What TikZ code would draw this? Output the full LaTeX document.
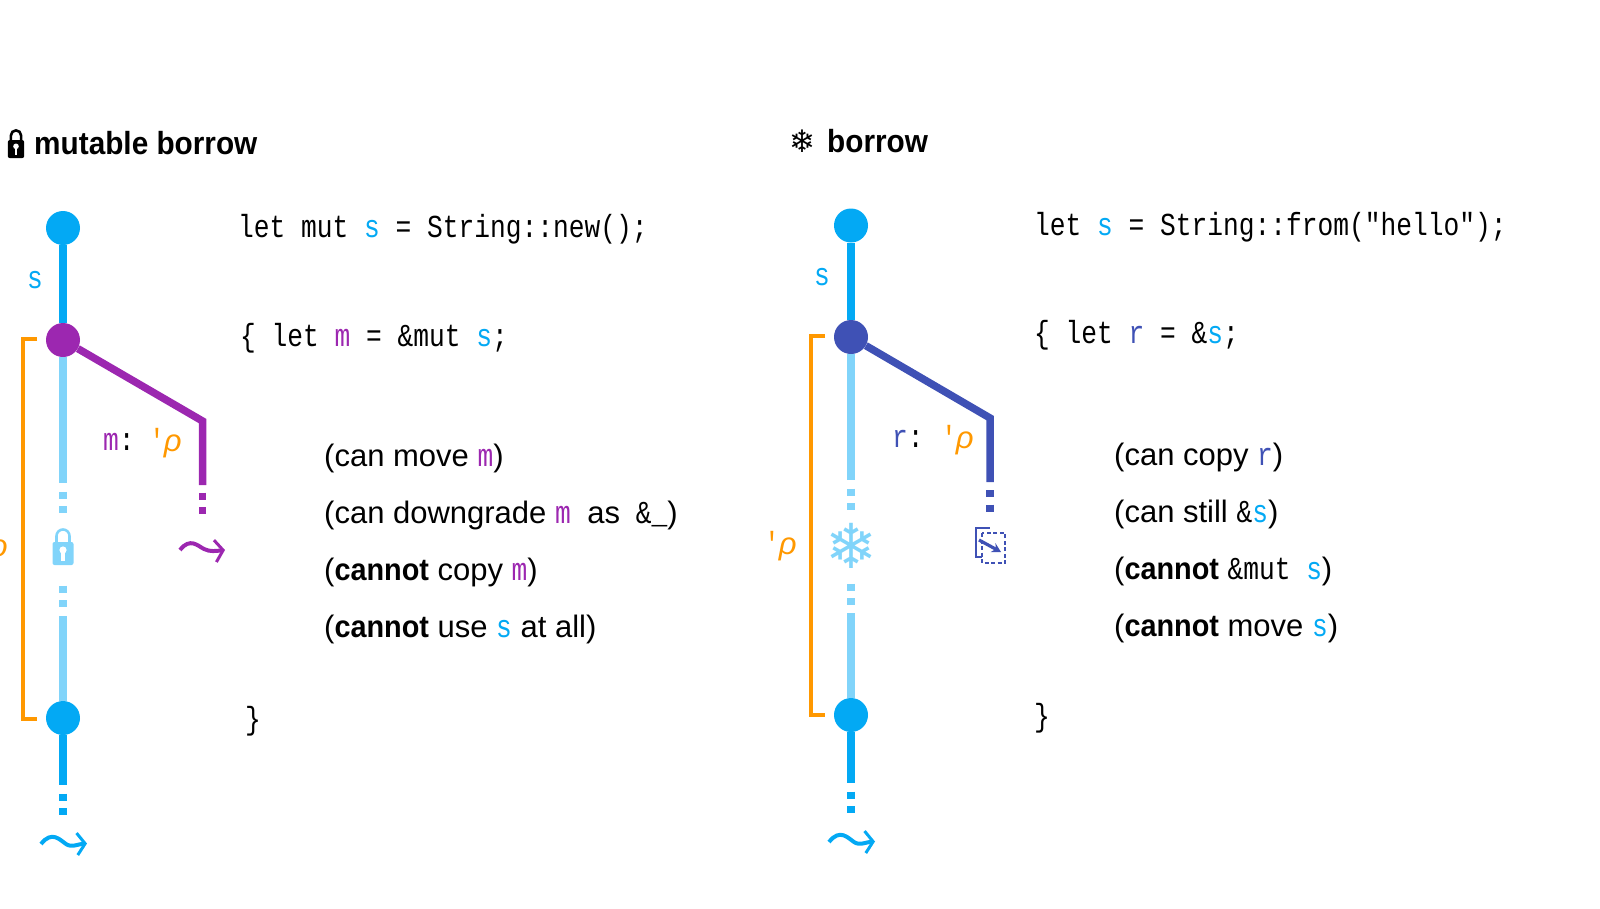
\documentclass[tikz,border=0pt]{standalone}
\usepackage{xcolor}
\usepackage{fontspec}
\setmainfont{Liberation Sans}[BoldFeatures={FakeStretch=0.93}]
\setmonofont{Liberation Mono}[FakeStretch=0.82]
\newfontfamily\symfont{DejaVu Sans}
\usetikzlibrary{arrows.meta}

\definecolor{skyblue}{HTML}{03A9F4}
\definecolor{skypale}{HTML}{81D4FA}
\definecolor{mutpurple}{HTML}{9C27B0}
\definecolor{refindigo}{HTML}{3F51B5}
\definecolor{spanorange}{HTML}{FF9800}

\newcommand{\codesize}{\fontsize{32}{32}\selectfont}
\newcommand{\vars}{\textcolor{skyblue}{\ttfamily\codesize s}}
\newcommand{\varm}{\textcolor{mutpurple}{\ttfamily\codesize m}}
\newcommand{\varr}{\textcolor{refindigo}{\ttfamily\codesize r}}
\newcommand{\ltlabel}{\textcolor{spanorange}{\ttfamily\codesize '\kern-1pt\rmfamily\itshape\fontsize{31}{31}\selectfont ρ}}

\tikzset{
	dot/.style={circle,fill=skyblue,minimum size=34pt,inner sep=0pt},
	stem/.style={line width=7.5pt,skyblue},
	palestem/.style={line width=7.5pt,skypale},
	tail/.style={line width=7.5pt,dash pattern=on 7pt off 7.5pt},
	span/.style={line width=3.2pt,spanorange,miter limit=10},
	wave/.style={line width=4pt,-{Straight Barb[length=8pt,width=22pt,line width=3pt]}},
	code/.style={anchor=base west,inner sep=0pt,font=\ttfamily\codesize},
	note/.style={anchor=base west,inner sep=0pt,font=\fontsize{31}{31}\selectfont},
	heading/.style={anchor=base west,inner sep=0pt,font=\bfseries\fontsize{32}{32}\selectfont},
	lockicon/.pic={
		\fill[rounded corners=2pt] (-10.5,-5) rectangle (10.5,18);
		\draw[line width=2.6pt] (-6.5,-4) -- (-6.5,-11) arc[start angle=180,end angle=360,radius=6.5] -- (6.5,-4);
		\fill[white] (0,3) circle[radius=3.6];
		\fill[white] (-1.6,3) rectangle (1.6,14);
	}
}

\begin{document}
\begin{tikzpicture}[x=1pt,y=-1pt]
	\useasboundingbox (0,0) rectangle (1600,908);

	% Now the mutable borrow heading
	\pic[black,scale=0.78] (titlelock) at (16,144) {lockicon};
	\node[heading] (title1) at (34,154) {mutable borrow};

	% Timeline of s on the left
	\node[dot] (s1) at (63,228) {};
	\node[dot,fill=mutpurple] (m1) at (63,340) {};
	\node[dot] (e1) at (63,718) {};
	\coordinate (pale1a) at (63,483);
	\coordinate (bit1a) at (63,491.5);
	\coordinate (bit1b) at (63,513);
	\coordinate (bit1c) at (63,585.5);
	\coordinate (bit1d) at (63,607);
	\coordinate (pale1b) at (63,616);
	\coordinate (stem1) at (63,785);
	\coordinate (bit1e) at (63,793.5);
	\coordinate (bit1f) at (63,816);
	\draw[stem] (s1) -- (m1);
	\draw[palestem] (m1) -- (pale1a);
	\draw[palestem,tail] (bit1a) -- (bit1b);
	\pic[skypale] (lock1) at (63,547) {lockicon};
	\draw[palestem,tail] (bit1c) -- (bit1d);
	\draw[palestem] (pale1b) -- (e1);
	\draw[stem] (e1) -- (stem1);
	\draw[stem,tail] (bit1e) -- (bit1f);
	\coordinate (wave1a) at (41,844);
	\coordinate (wave1b) at (87,843.5);
	\draw[wave,skyblue] (wave1a) .. controls (52,830) and (60,840) .. (66,844) .. controls (72,848) and (78,844) .. (wave1b);

	% The branch of m
	\coordinate (elbow1) at (202.5,421);
	\coordinate (end1) at (202.5,485);
	\coordinate (bit1g) at (202.5,492.5);
	\coordinate (bit1h) at (202.5,515);
	\draw[line width=7.5pt,mutpurple,miter limit=10] (m1) -- (elbow1) -- (end1);
	\draw[line width=7.5pt,mutpurple,tail] (bit1g) -- (bit1h);
	\coordinate (wave2a) at (180,550);
	\coordinate (wave2b) at (225,550);
	\draw[wave,mutpurple] (wave2a) .. controls (190,537) and (198,546) .. (204,549) .. controls (210,552) and (216,551) .. (wave2b);

	% Lifetime bracket
	\coordinate (span1a) at (37,339);
	\coordinate (span1b) at (23,339);
	\coordinate (span1c) at (23,719);
	\coordinate (span1d) at (37,719);
	\draw[span] (span1a) -- (span1b) -- (span1c) -- (span1d);
	\node[anchor=base west,inner sep=0pt] (lt1) at (-25,556) {\ltlabel};
	\node[anchor=base west,inner sep=0pt] (lab1) at (27,288) {\vars};
	\node[anchor=base west,inner sep=0pt] (lab2) at (103,450) {\varm\ttfamily\codesize:};
	\node[anchor=base west,inner sep=0pt] (lab3) at (149,451) {\ltlabel};

	% Code of the mutable borrow
	\node[code] (code1) at (238,237) {let mut \vars{} = String::new();};
	\node[code] (code2) at (240,346) {\{ let \varm{} = \&mut \vars;};
	\node[note] (note1) at (324,466.5) {(can move \varm)};
	\node[note] (note2) at (324,523.5) {(can downgrade \varm{}\hspace{8pt} as\hspace{7pt} \texttt{\codesize\&\_})};
	\node[note] (note3) at (324,580.5) {(\textbf{cannot} copy \varm)};
	\node[note] (note4) at (324,637.5) {(\textbf{cannot} use \vars{} at all)};
	\node[code] (code3) at (245,729) {\}};

	% Now the 2nd heading
	\node[inner sep=0pt,font=\symfont\fontsize{31}{31}\selectfont] (titleflake) at (802,141) {❄};
	\node[heading] (title2) at (827,152) {borrow};

	% Timeline of s on the right
	\node[dot] (s2) at (851,225.5) {};
	\node[dot,fill=refindigo] (r2) at (851,337) {};
	\node[dot] (e2) at (851,715) {};
	\coordinate (pale2a) at (851,480);
	\coordinate (bit2a) at (851,488.5);
	\coordinate (bit2b) at (851,511);
	\coordinate (bit2c) at (851,583.5);
	\coordinate (bit2d) at (851,605);
	\coordinate (pale2b) at (851,613);
	\coordinate (stem2) at (851,783);
	\coordinate (bit2e) at (851,791.5);
	\coordinate (bit2f) at (851,814);
	\draw[stem] (s2) -- (r2);
	\draw[palestem] (r2) -- (pale2a);
	\draw[palestem,tail] (bit2a) -- (bit2b);
	\node[inner sep=0pt,text=skypale,font=\symfont\fontsize{62}{62}\selectfont] (flake2) at (851,546) {❄};
	\draw[palestem,tail] (bit2c) -- (bit2d);
	\draw[palestem] (pale2b) -- (e2);
	\draw[stem] (e2) -- (stem2);
	\draw[stem,tail] (bit2e) -- (bit2f);
	\coordinate (wave3a) at (829,842);
	\coordinate (wave3b) at (875,841.5);
	\draw[wave,skyblue] (wave3a) .. controls (840,828) and (848,838) .. (854,842) .. controls (860,846) and (866,842) .. (wave3b);

	% The branch of r
	\coordinate (elbow2) at (990,418);
	\coordinate (end2) at (990,482);
	\coordinate (bit2g) at (990,490);
	\coordinate (bit2h) at (990,512);
	\draw[line width=7.5pt,refindigo,miter limit=10] (r2) -- (elbow2) -- (end2);
	\draw[line width=7.5pt,refindigo,tail] (bit2g) -- (bit2h);

	% Copy icon
	\coordinate (copy1) at (982,557);
	\coordinate (copy2) at (976,557);
	\coordinate (copy3) at (976,528);
	\coordinate (copy4) at (990,528);
	\coordinate (copy5) at (982,533);
	\coordinate (copy6) at (1005,563);
	\coordinate (copy7) at (979,540);
	\coordinate (copy8) at (1001,552);
	\draw[refindigo,line width=2pt] (copy1) -- (copy2) -- (copy3) -- (copy4);
	\draw[refindigo,line width=2pt,dash pattern=on 4pt off 2.5pt] (copy5) rectangle (copy6);
	\draw[refindigo,line width=3.2pt,-{Stealth[length=9pt,width=10pt]}] (copy7) -- (copy8);

	% Lifetime bracket of the borrow
	\coordinate (span2a) at (825,336);
	\coordinate (span2b) at (811,336);
	\coordinate (span2c) at (811,715);
	\coordinate (span2d) at (825,715);
	\draw[span] (span2a) -- (span2b) -- (span2c) -- (span2d);
	\node[anchor=base west,inner sep=0pt] (lt2) at (764,554) {\ltlabel};
	\node[anchor=base west,inner sep=0pt] (lab4) at (814,285) {\vars};
	\node[anchor=base west,inner sep=0pt] (lab5) at (892,447) {\varr\ttfamily\codesize:};
	\node[anchor=base west,inner sep=0pt] (lab6) at (941,448) {\ltlabel};

	% Code of the borrow
	\node[code] (code4) at (1034,235) {let \vars{} = String::from("hello");};
	\node[code] (code5) at (1034,343) {\{ let \varr{} = \&\vars;};
	\node[note] (note5) at (1114,465) {(can copy \varr)};
	\node[note] (note6) at (1114,522) {(can still \texttt{\codesize\&}\vars)};
	\node[note] (note7) at (1114,579) {(\textbf{cannot} \texttt{\codesize\&mut}\hspace{7pt} \vars)};
	\node[note] (note8) at (1114,636) {(\textbf{cannot} move \vars)};
	\node[code] (code6) at (1034,726) {\}};
\end{tikzpicture}
\end{document}
